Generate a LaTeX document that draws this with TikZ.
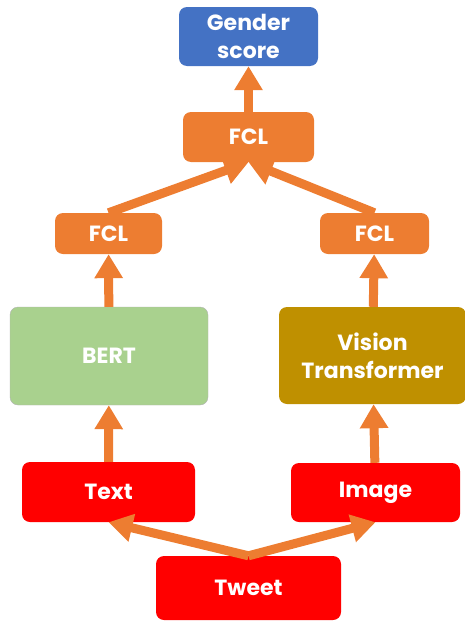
\documentclass[tikz,border=0pt]{standalone}
\usepackage{fontspec}
\setsansfont{Poppins}
\usetikzlibrary{arrows.meta}
\definecolor{fclorange}{HTML}{ED7D31}
\definecolor{scoreblue}{HTML}{4472C4}
\definecolor{bertgreen}{HTML}{A9D18E}
\definecolor{vitgold}{HTML}{BF9000}
\definecolor{inred}{HTML}{FF0000}
\tikzset{
	box/.style={rounded corners=8pt, text=white, align=center, inner sep=0pt,
		font=\sffamily\bfseries\fontsize{22}{28}\selectfont},
	flow/.style={draw=fclorange, line width=9pt,
		-{Triangle[width=27pt,length=24pt]}, shorten >=0pt}
}

\begin{document}
\begin{tikzpicture}[x=1pt, y=-1pt]
%%%%%%%%%%%%%%%%%%
\useasboundingbox (0,0) rectangle (464,621);

%Boxes
	\node[box, fill=scoreblue, minimum width=139pt, minimum height=59pt] (gender) at (248.5,36.5) {Gender\\score};
	\node[box, fill=fclorange, minimum width=131pt, minimum height=50pt] (fclT) at (248.5,137) {FCL};
	\node[box, fill=fclorange, minimum width=107pt, minimum height=41pt] (fclL) at (108.5,233.5) {FCL};
	\node[box, fill=fclorange, minimum width=109pt, minimum height=41pt] (fclR) at (374.5,233.5) {FCL};
	\node[box, fill=bertgreen, draw=black!30, minimum width=198pt, minimum height=98pt] (bert) at (109,356) {BERT};
	\node[box, fill=vitgold, minimum width=187pt, minimum height=97pt] (vit) at (372.5,355.5) {Vision\\Transformer};
	\node[box, fill=inred, minimum width=173pt, minimum height=60pt] (text) at (108.5,492) {Text};
	\node[box, fill=inred, minimum width=169pt, minimum height=59pt] (image) at (375.5,492.5) {Image};
	\node[box, fill=inred, minimum width=185pt, minimum height=64pt] (tweet) at (248.5,588) {Tweet};

%Arrows
	\draw[flow] (tweet.north) -- (text.south);
	\draw[flow] (tweet.north) -- (image.south);
	\draw[flow] (text) -- (bert);
	\draw[flow] (image) -- (vit);
	\draw[flow] (bert) -- (fclL);
	\draw[flow] (vit) -- (fclR);
	\draw[flow] (fclL.north) -- (fclT.south);
	\draw[flow] (fclR.north) -- (fclT.south);
	\draw[flow] (fclT) -- (gender);

\end{tikzpicture}
\end{document}
